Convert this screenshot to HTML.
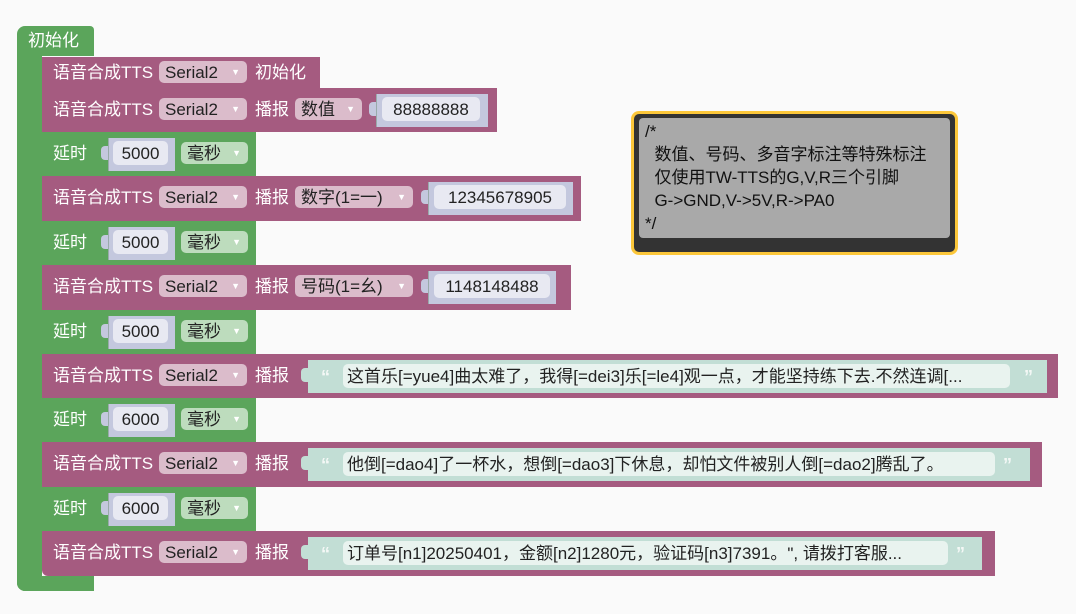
<!DOCTYPE html><html><head><meta charset="utf-8"><style>
body{margin:0;width:1076px;height:614px;background:#fafafa;position:relative;overflow:hidden;font-family:"Liberation Sans","Noto Sans CJK SC",sans-serif;font-size:17px}
div{position:absolute;box-sizing:border-box;white-space:nowrap}
.g{background:#5ba55b}.p{background:#a55b80}
.t{color:#fff;line-height:24px}
.dp{background:#dbbccb;border-radius:5px;height:22px;color:#222;line-height:23px;padding-left:6px}
.dg{background:#bddcbd;border-radius:5px;height:22px;color:#222;line-height:23px;padding-left:6px}
.ar{position:absolute;right:7px;top:0;font-size:9px;color:#fff}
.sk{background:#c4c8de;border-left:1px solid #9aa}
.in{background:#e8e9f2;border-radius:5px;height:24px;line-height:25px;color:#222;text-align:center}
.tb{background:#c2ded5}
.ti{background:#e9f3ef;border-radius:5px;height:24px;line-height:25px;color:#222;padding-left:4px;overflow:hidden}
.q{color:#fff;font-size:18px;font-weight:bold;line-height:24px}
.tab{width:7px;height:14px;border-radius:4px 0 0 4px;background:#c4c8de}
</style></head><body>
<div class="g" style="left:17px;top:26px;width:77px;height:30px;border-radius:8px 4px 0 0"></div>
<div class="t" style="left:28px;top:29px">初始化</div>
<div class="g" style="left:17px;top:56px;width:25px;height:535px;border-radius:0 0 0 8px"></div>
<div class="g" style="left:17px;top:576px;width:77px;height:15px;border-radius:0 0 0 8px"></div>

<div class="p" style="left:42px;top:57px;width:278px;height:31px"></div>
<div class="t" style="left:53px;top:61px">语音合成TTS</div>
<div class="dp" style="left:159px;top:61px;width:88px">Serial2<span class="ar">▼</span></div>
<div class="t" style="left:255px;top:61px">初始化</div>

<div class="p" style="left:42px;top:88px;width:455px;height:44px"></div>
<div class="t" style="left:53px;top:98px">语音合成TTS</div>
<div class="dp" style="left:159px;top:98px;width:88px">Serial2<span class="ar">▼</span></div>
<div class="t" style="left:255px;top:98px">播报</div>
<div class="dp" style="left:295px;top:98px;width:67px">数值<span class="ar">▼</span></div>
<div class="tab" style="left:369px;top:102px"></div>
<div class="sk" style="left:376px;top:94px;width:112px;height:33px"></div>
<div class="in" style="left:382px;top:97px;width:98px">88888888</div>

<div class="g" style="left:42px;top:132px;width:214px;height:44px"></div>
<div class="t" style="left:53px;top:142px">延时</div>
<div class="tab" style="left:101px;top:146px"></div>
<div class="sk" style="left:108px;top:138px;width:67px;height:33px"></div>
<div class="in" style="left:113px;top:141px;width:55px">5000</div>
<div class="dg" style="left:181px;top:142px;width:67px">毫秒<span class="ar">▼</span></div>

<div class="p" style="left:42px;top:176px;width:539px;height:45px"></div>
<div class="t" style="left:53px;top:186px">语音合成TTS</div>
<div class="dp" style="left:159px;top:186px;width:88px">Serial2<span class="ar">▼</span></div>
<div class="t" style="left:255px;top:186px">播报</div>
<div class="dp" style="left:295px;top:186px;width:118px">数字(1=一)<span class="ar">▼</span></div>
<div class="tab" style="left:421px;top:190px"></div>
<div class="sk" style="left:428px;top:182px;width:145px;height:33px"></div>
<div class="in" style="left:434px;top:185px;width:132px">12345678905</div>

<div class="g" style="left:42px;top:221px;width:214px;height:44px"></div>
<div class="t" style="left:53px;top:231px">延时</div>
<div class="tab" style="left:101px;top:235px"></div>
<div class="sk" style="left:108px;top:227px;width:67px;height:33px"></div>
<div class="in" style="left:113px;top:230px;width:55px">5000</div>
<div class="dg" style="left:181px;top:231px;width:67px">毫秒<span class="ar">▼</span></div>

<div class="p" style="left:42px;top:265px;width:529px;height:45px"></div>
<div class="t" style="left:53px;top:275px">语音合成TTS</div>
<div class="dp" style="left:159px;top:275px;width:88px">Serial2<span class="ar">▼</span></div>
<div class="t" style="left:255px;top:275px">播报</div>
<div class="dp" style="left:295px;top:275px;width:118px">号码(1=幺)<span class="ar">▼</span></div>
<div class="tab" style="left:421px;top:279px"></div>
<div class="sk" style="left:428px;top:271px;width:128px;height:33px"></div>
<div class="in" style="left:434px;top:274px;width:116px">1148148488</div>

<div class="g" style="left:42px;top:310px;width:214px;height:44px"></div>
<div class="t" style="left:53px;top:320px">延时</div>
<div class="tab" style="left:101px;top:324px"></div>
<div class="sk" style="left:108px;top:316px;width:67px;height:33px"></div>
<div class="in" style="left:113px;top:319px;width:55px">5000</div>
<div class="dg" style="left:181px;top:320px;width:67px">毫秒<span class="ar">▼</span></div>

<div class="p" style="left:42px;top:354px;width:1016px;height:44px"></div>
<div class="t" style="left:53px;top:364px">语音合成TTS</div>
<div class="dp" style="left:159px;top:364px;width:88px">Serial2<span class="ar">▼</span></div>
<div class="t" style="left:255px;top:364px">播报</div>
<div class="tab" style="left:301px;top:368px;background:#c2ded5"></div>
<div class="tb" style="left:308px;top:360px;width:739px;height:33px"></div>
<div class="q" style="left:321px;top:365px;color:#f4f8f6">“</div>
<div class="ti" style="left:343px;top:364px;width:667px">这首乐[=yue4]曲太难了，我得[=dei3]乐[=le4]观一点，才能坚持练下去.不然连调[...</div>
<div class="q" style="left:1024px;top:365px;color:#f4f8f6">”</div>

<div class="g" style="left:42px;top:398px;width:214px;height:44px"></div>
<div class="t" style="left:53px;top:408px">延时</div>
<div class="tab" style="left:101px;top:412px"></div>
<div class="sk" style="left:108px;top:404px;width:67px;height:33px"></div>
<div class="in" style="left:113px;top:407px;width:55px">6000</div>
<div class="dg" style="left:181px;top:408px;width:67px">毫秒<span class="ar">▼</span></div>

<div class="p" style="left:42px;top:442px;width:1000px;height:45px"></div>
<div class="t" style="left:53px;top:452px">语音合成TTS</div>
<div class="dp" style="left:159px;top:452px;width:88px">Serial2<span class="ar">▼</span></div>
<div class="t" style="left:255px;top:452px">播报</div>
<div class="tab" style="left:301px;top:456px;background:#c2ded5"></div>
<div class="tb" style="left:308px;top:448px;width:722px;height:33px"></div>
<div class="q" style="left:321px;top:453px;color:#f4f8f6">“</div>
<div class="ti" style="left:343px;top:452px;width:652px">他倒[=dao4]了一杯水，想倒[=dao3]下休息，却怕文件被别人倒[=dao2]腾乱了。</div>
<div class="q" style="left:1003px;top:453px;color:#f4f8f6">”</div>

<div class="g" style="left:42px;top:487px;width:214px;height:44px"></div>
<div class="t" style="left:53px;top:497px">延时</div>
<div class="tab" style="left:101px;top:501px"></div>
<div class="sk" style="left:108px;top:493px;width:67px;height:33px"></div>
<div class="in" style="left:113px;top:496px;width:55px">6000</div>
<div class="dg" style="left:181px;top:497px;width:67px">毫秒<span class="ar">▼</span></div>

<div class="p" style="left:42px;top:531px;width:953px;height:45px;border-radius:0 0 0 6px"></div>
<div class="t" style="left:53px;top:541px">语音合成TTS</div>
<div class="dp" style="left:159px;top:541px;width:88px">Serial2<span class="ar">▼</span></div>
<div class="t" style="left:255px;top:541px">播报</div>
<div class="tab" style="left:301px;top:545px;background:#c2ded5"></div>
<div class="tb" style="left:308px;top:537px;width:674px;height:33px"></div>
<div class="q" style="left:321px;top:542px;color:#f4f8f6">“</div>
<div class="ti" style="left:343px;top:541px;width:605px">订单号[n1]20250401，金额[n2]1280元，验证码[n3]7391。", 请拨打客服...</div>
<div class="q" style="left:956px;top:542px;color:#f4f8f6">”</div>

<div style="left:631px;top:111px;width:327px;height:144px;background:#333;border:3px solid #fcc73a;border-radius:8px"></div>
<div style="left:639px;top:118px;width:311px;height:120px;background:#a9a9a9;border-radius:4px"></div>
<div style="left:645px;top:120px;color:#111;line-height:23px;font-size:17px;white-space:pre">/*
  数值、号码、多音字标注等特殊标注
  仅使用TW-TTS的G,V,R三个引脚
  G->GND,V->5V,R->PA0
*/</div>
</body></html>
